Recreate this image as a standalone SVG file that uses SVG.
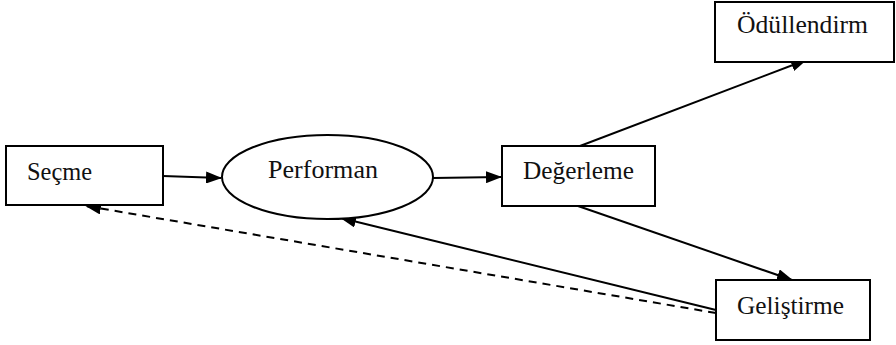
<svg xmlns="http://www.w3.org/2000/svg" width="896" height="345" viewBox="0 0 896 345">
<style>
.box{fill:#fff;stroke:#000;stroke-width:2}
.lbl{font-family:"Liberation Serif",serif;font-size:25px;fill:#111}
.ln{stroke:#000;stroke-width:2;fill:none}
.dash{stroke-dasharray:8,6}
</style>
<defs>
<marker id="ah" markerWidth="16" markerHeight="12" refX="15" refY="6" orient="auto" markerUnits="userSpaceOnUse">
<path d="M0,0 L16,6 L0,12 Z" fill="#000"/>
</marker>
</defs>
<rect width="896" height="345" fill="#fff"/>
<g id="connectors">
<line class="ln" x1="163" y1="176" x2="221" y2="178" marker-end="url(#ah)"/>
<line class="ln" x1="433" y1="178" x2="501" y2="177" marker-end="url(#ah)"/>
<line class="ln" x1="580" y1="146" x2="806" y2="60" marker-end="url(#ah)"/>
<line class="ln" x1="578" y1="206" x2="792" y2="280" marker-end="url(#ah)"/>
<line class="ln" x1="716" y1="310" x2="341" y2="218" marker-end="url(#ah)"/>
<line class="ln dash" x1="716" y1="313" x2="86" y2="206" marker-end="url(#ah)"/>
</g>
<g id="secme">
<rect class="box" x="6" y="146" width="157" height="59"/>
<text class="lbl" x="27" y="180" textLength="65" lengthAdjust="spacingAndGlyphs">Seçme</text>
</g>
<g id="performan">
<ellipse class="box" cx="327.5" cy="177" rx="105.5" ry="42"/>
<text class="lbl" x="268" y="178" textLength="110" lengthAdjust="spacingAndGlyphs">Performan</text>
</g>
<g id="degerleme">
<rect class="box" x="502" y="146" width="153" height="60"/>
<text class="lbl" x="523" y="179" textLength="111" lengthAdjust="spacingAndGlyphs">Değerleme</text>
</g>
<g id="odullendirm">
<rect class="box" x="715" y="2" width="179" height="60"/>
<text class="lbl" x="737" y="33" textLength="131" lengthAdjust="spacingAndGlyphs">Ödüllendirm</text>
</g>
<g id="gelistirme">
<rect class="box" x="716" y="280" width="154" height="60"/>
<text class="lbl" x="737" y="314" textLength="107" lengthAdjust="spacingAndGlyphs">Geliştirme</text>
</g>
</svg>
